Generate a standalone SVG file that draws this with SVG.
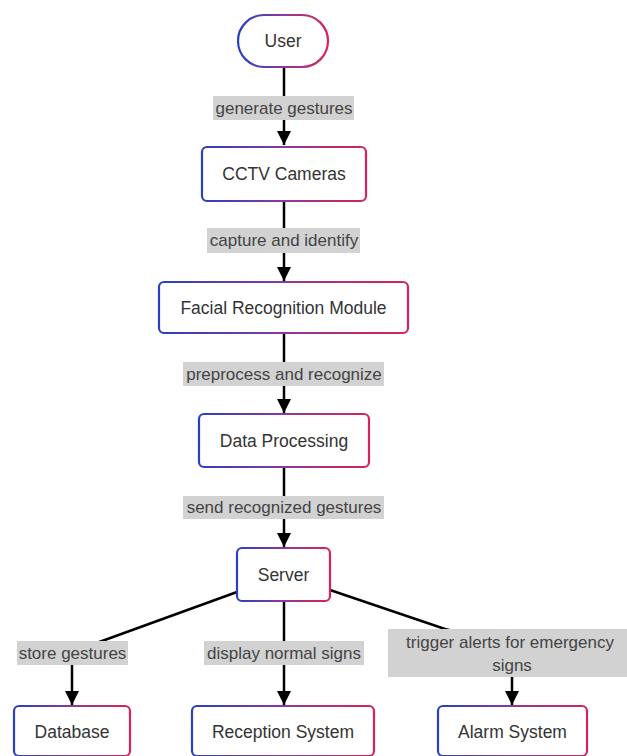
<svg xmlns="http://www.w3.org/2000/svg" width="627" height="756" viewBox="0 0 627 756">
<defs>
<linearGradient id="g" x1="0" y1="0" x2="1" y2="0">
<stop offset="0" stop-color="#2a3fc2"/>
<stop offset="0.5" stop-color="#8a3a9a"/>
<stop offset="1" stop-color="#d8235a"/>
</linearGradient>
<marker id="arr" markerUnits="userSpaceOnUse" markerWidth="14" markerHeight="14" viewBox="0 0 14 14" refX="14" refY="7" orient="auto">
<path d="M0,0 L14,7 L0,14 z" fill="#000"/>
</marker>
<style>
.n{fill:#fff;stroke:url(#g);stroke-width:2.2}
.t{font-family:"Liberation Sans",Arial,sans-serif;font-size:17.5px;fill:#333;text-anchor:middle;dominant-baseline:central}
.e{fill:none;stroke:#000;stroke-width:2.5}
.lb{fill:#d2d2d2}
.lt{font-family:"Liberation Sans",Arial,sans-serif;font-size:17px;fill:#444;text-anchor:middle;dominant-baseline:central}
</style>
</defs>
<rect width="627" height="756" fill="#fff"/>
<g id="connectors">
<path class="e" d="M284,67 L284,145" marker-end="url(#arr)"/>
<path class="e" d="M284,201 L284,281" marker-end="url(#arr)"/>
<path class="e" d="M284,333 L284,413" marker-end="url(#arr)"/>
<path class="e" d="M284,467 L284,547" marker-end="url(#arr)"/>
<path class="e" d="M237,592 L102,641 L72,652 L72,705" marker-end="url(#arr)"/>
<path class="e" d="M284,601 L284,705" marker-end="url(#arr)"/>
<path class="e" d="M330,590 L445,629 L512,645 L512,705" marker-end="url(#arr)"/>
<rect class="lb" x="213" y="96" width="141" height="24"/>
<text class="lt" x="284" y="108">generate gestures</text>
<rect class="lb" x="207" y="228" width="153" height="25"/>
<text class="lt" x="284" y="240.5">capture and identify</text>
<rect class="lb" x="183" y="362" width="201" height="24"/>
<text class="lt" x="284" y="374">preprocess and recognize</text>
<rect class="lb" x="183" y="496" width="201" height="23"/>
<text class="lt" x="284" y="507.5">send recognized gestures</text>
<rect class="lb" x="17" y="641" width="111" height="24"/>
<text class="lt" x="72.5" y="653">store gestures</text>
<rect class="lb" x="204" y="641" width="160" height="24"/>
<text class="lt" x="284" y="653">display normal signs</text>
<rect class="lb" x="388" y="629" width="244" height="48"/>
<text class="lt" x="510" y="642">trigger alerts for emergency</text>
<text class="lt" x="512" y="665">signs</text>
</g>
<g id="user"><rect class="n" x="238" y="15" width="90" height="52" rx="26"/><text class="t" x="283" y="41">User</text></g>
<g id="cctv"><rect class="n" x="202" y="147" width="164" height="54" rx="5"/><text class="t" x="284" y="174">CCTV Cameras</text></g>
<g id="facial"><rect class="n" x="159" y="282" width="249" height="51" rx="5"/><text class="t" x="283.5" y="307.5">Facial Recognition Module</text></g>
<g id="data"><rect class="n" x="199" y="414" width="170" height="53" rx="5"/><text class="t" x="284" y="440.5">Data Processing</text></g>
<g id="server"><rect class="n" x="237" y="548" width="93" height="53" rx="5"/><text class="t" x="283.5" y="574.5">Server</text></g>
<g id="database"><rect class="n" x="14" y="706" width="116" height="50" rx="5"/><text class="t" x="72" y="731.5">Database</text></g>
<g id="reception"><rect class="n" x="192" y="706" width="182" height="50" rx="5"/><text class="t" x="283" y="731.5">Reception System</text></g>
<g id="alarm"><rect class="n" x="438" y="706" width="149" height="50" rx="5"/><text class="t" x="512.5" y="731.5">Alarm System</text></g>
</svg>
